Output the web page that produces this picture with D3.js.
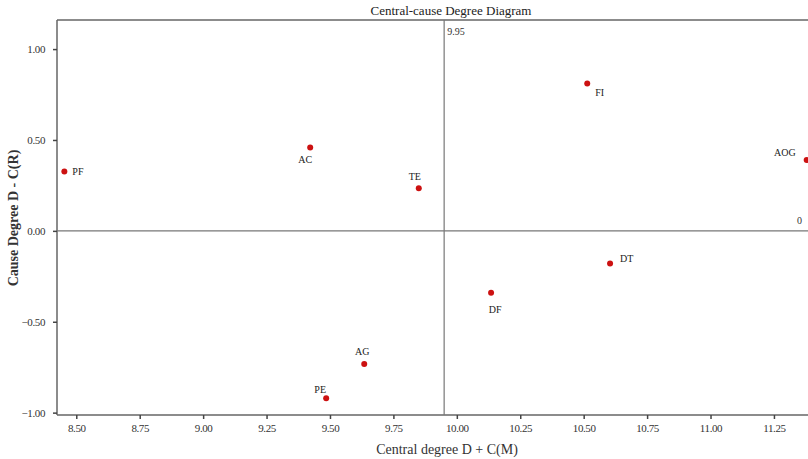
<!DOCTYPE html>
<html>
<head>
<meta charset="utf-8">
<script src="https://cdn.jsdelivr.net/npm/d3@7"></script>
<style>
  html, body { margin: 0; padding: 0; background: #fff; }
  svg { display: block; }
  text { font-family: "Liberation Serif", "Times New Roman", serif; fill: #222; }
</style>
</head>
<body>
<svg id="chart" width="808" height="459"></svg>
<script>
// ---- data ----
const factors = ["PF", "AC", "TE", "AG", "PE", "DF", "FI", "DT", "AOG"];
const centralDegree = [8.453, 9.422, 9.850, 9.635, 9.485, 10.135, 10.514, 10.604, 11.379];
const causeDegree = [0.326, 0.458, 0.235, -0.732, -0.921, -0.340, 0.811, -0.180, 0.390];
const xTicks = [8.5, 8.75, 9.0, 9.25, 9.5, 9.75, 10.0, 10.25, 10.5, 10.75, 11.0, 11.25];
const yTicks = [-1.0, -0.5, 0.0, 0.5, 1.0];
const xMean = 9.95;
const yZero = 0;

// ---- label placement (layout only) ----
const labelOffsets = {
  PF: [8, 3, "start"], AC: [-5, 15, "middle"], TE: [-4, -8, "middle"],
  AG: [-2, -9, "middle"], PE: [-6, -5, "middle"], DF: [4, 20, "middle"],
  FI: [8, 13, "start"], DT: [10, -2, "start"], AOG: [-11, -4, "end"]
};

const svg = d3.select("#chart");
const pLeft = 57, pTop = 20, pBottom = 415, pRight = 812;

const x = d3.scaleLinear().domain([8.424, 11.4]).range([pLeft, pRight]);
const y = d3.scaleLinear().domain([-1.013, 1.16]).range([pBottom, pTop]);

// frame line (top)
svg.append("line").attr("x1", pLeft).attr("x2", pRight).attr("y1", pTop).attr("y2", pTop)
  .attr("stroke", "#666").attr("stroke-width", 1.5);

// axes
const xAxis = svg.append("g").attr("transform", `translate(0,${pBottom})`)
  .call(d3.axisBottom(x).tickValues(xTicks).tickFormat(d3.format(".2f")).tickSizeOuter(0).tickSize(4).tickPadding(5));
const yAxis = svg.append("g").attr("transform", `translate(${pLeft},0)`)
  .call(d3.axisLeft(y).tickValues(yTicks).tickFormat(d3.format(".2f")).tickSizeOuter(0).tickSize(4).tickPadding(8));
[xAxis, yAxis].forEach(g => {
  g.select(".domain").attr("stroke", "#666").attr("stroke-width", 1.5);
  g.selectAll(".tick line").attr("stroke", "#444").attr("stroke-width", 1.5);
  g.selectAll(".tick text")
    .style("font-family", "'Liberation Serif', 'Times New Roman', serif")
    .style("font-size", "11px").style("fill", "#333").style("letter-spacing", "-0.4px");
});
xAxis.select(".domain").attr("d", `M${pLeft},0H${pRight}`);
yAxis.select(".domain").attr("d", `M0,${pTop}V${pBottom}`);

// quadrant lines
svg.append("line").attr("x1", x(xMean)).attr("x2", x(xMean)).attr("y1", pTop).attr("y2", pBottom)
  .attr("stroke", "#777").attr("stroke-width", 1.2);
svg.append("line").attr("x1", pLeft).attr("x2", pRight).attr("y1", y(yZero)).attr("y2", y(yZero))
  .attr("stroke", "#777").attr("stroke-width", 1.2);

svg.append("text").attr("x", x(xMean) + 3).attr("y", 35).attr("font-size", 10)
  .style("fill", "#333").text("9.95");
svg.append("text").attr("x", 797).attr("y", y(yZero) - 7).attr("font-size", 10)
  .style("fill", "#333").text("0");

// points
const pts = factors.map((f, i) => ({ f, cx: centralDegree[i], cy: causeDegree[i] }));
svg.append("g").selectAll("circle").data(pts).join("circle")
  .attr("cx", d => x(d.cx)).attr("cy", d => y(d.cy)).attr("r", 3)
  .attr("fill", "#cc1111");
svg.append("g").selectAll("text").data(pts).join("text")
  .attr("x", d => x(d.cx) + labelOffsets[d.f][0])
  .attr("y", d => y(d.cy) + labelOffsets[d.f][1])
  .attr("text-anchor", d => labelOffsets[d.f][2])
  .attr("font-size", 10)
  .text(d => d.f);

// title and axis labels
svg.append("text").attr("x", 451).attr("y", 15).attr("text-anchor", "middle")
  .attr("font-size", 13).text("Central-cause Degree Diagram");
svg.append("text").attr("x", 447).attr("y", 454).attr("text-anchor", "middle")
  .attr("font-size", 14).style("fill", "#333").text("Central degree D + C(M)");
svg.append("text").attr("transform", "translate(18,218) rotate(-90)").attr("text-anchor", "middle")
  .attr("font-size", 14).attr("font-weight", "bold").style("fill", "#333").text("Cause Degree D - C(R)");
</script>
</body>
</html>
